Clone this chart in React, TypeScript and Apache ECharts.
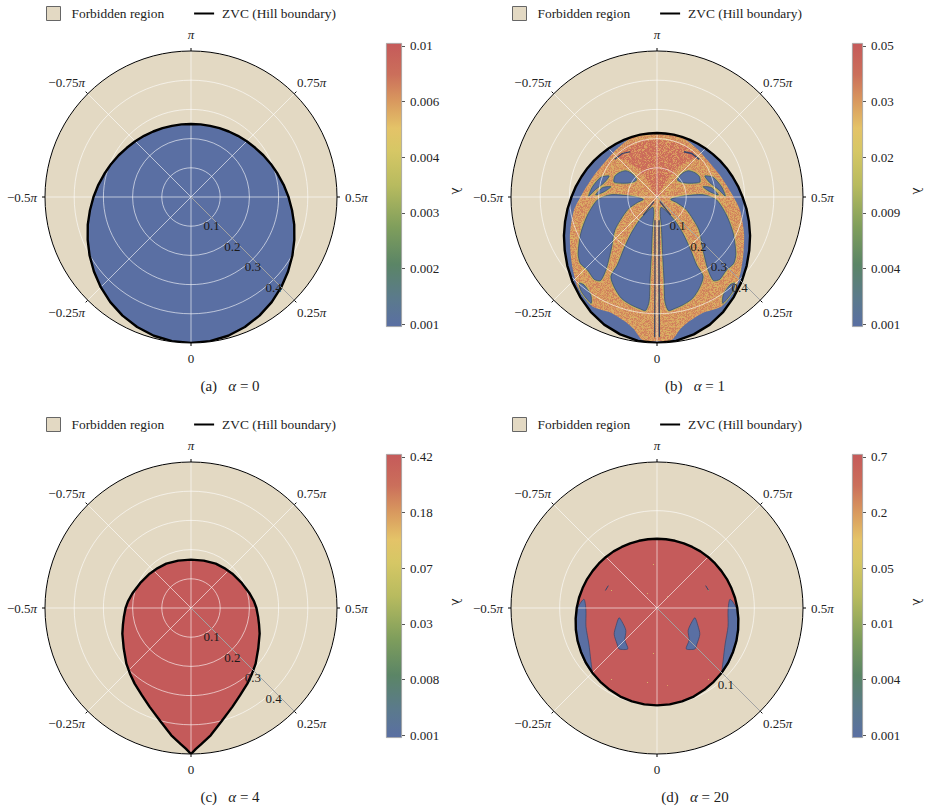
import React, { useEffect, useRef } from "react";
import * as echarts from "echarts";

const FONT = "'Liberation Serif', serif";
const BLUE = "#5a6fa3";
const RED = "#c55b5b";
const TAN = "#e3d9c3";

// ZVC boundary radii, right half (mirrored about the vertical)
const stepAngles = [0, 7.5, 15, 22.5, 30, 37.5, 45, 52.5, 60, 67.5, 75, 82.5, 90, 97.5, 105, 112.5, 120, 127.5, 135, 142.5, 150, 157.5, 165, 172.5, 180];
const zvcA = [0.5, 0.498, 0.492, 0.482, 0.469, 0.454, 0.437, 0.419, 0.401, 0.383, 0.366, 0.349, 0.334, 0.32, 0.307, 0.296, 0.286, 0.277, 0.27, 0.264, 0.259, 0.255, 0.252, 0.251, 0.25];
const zvcB = [0.5, 0.497, 0.487, 0.473, 0.454, 0.432, 0.41, 0.387, 0.365, 0.345, 0.326, 0.309, 0.293, 0.28, 0.268, 0.258, 0.249, 0.241, 0.235, 0.23, 0.226, 0.223, 0.221, 0.2195, 0.219];
const tipAngles = [0, 2, 4.2, 8.8, 15.1, 22.7, 29.3, 36.7, 42.9, 49.3, 58.9, 69.5, 76.2, 82.3, 90, 96, 103.9, 116, 129.7, 140.2, 150.9, 164.9, 180];
const zvcC = [0.5, 0.483, 0.468, 0.441, 0.402, 0.367, 0.343, 0.323, 0.307, 0.292, 0.269, 0.251, 0.24, 0.232, 0.224, 0.217, 0.207, 0.194, 0.184, 0.178, 0.174, 0.168, 0.1655];
const zvcD = [0.1, 0.0999, 0.0993, 0.0985, 0.0971, 0.0956, 0.094, 0.0922, 0.0902, 0.0883, 0.0863, 0.0843, 0.0825, 0.0808, 0.0791, 0.0777, 0.0763, 0.0752, 0.0742, 0.0733, 0.0724, 0.0719, 0.0715, 0.0713, 0.0712];

// Colour bar tick labels, bottom to top
const barA = ["0.001", "0.002", "0.003", "0.004", "0.006", "0.01"];
const barB = ["0.001", "0.004", "0.009", "0.02", "0.03", "0.05"];
const barC = ["0.001", "0.008", "0.03", "0.07", "0.18", "0.42"];
const barD = ["0.001", "0.004", "0.01", "0.05", "0.2", "0.7"];
const barTickValues = [0.05, 1.05, 2.05, 3.05, 4.05, 5.05];
const barTop = 5.1;

// Radial tick labels
const radialLong = [0.1, 0.2, 0.3, 0.4];
const radialShort = [0.1];

// Regions of panel (b): x, y in the polar plane, thousandths of the radial unit, x right, y down (right half)
const chaosOuter = [[0, -216], [84, -205], [136, -166], [170, -129], [215, -75], [255, -13], [284, 44], [298, 124], [296, 193], [288, 250], [272, 307], [250, 341], [221, 375], [198, 384], [158, 396], [113, 424], [79, 453], [58, 483], [42, 494], [0, 494]];
const chaosCore = [[0, -195], [56, -189], [113, -166], [136, -138], [101, -121], [67, -98], [39, -64], [16, -24], [0, 0]];
const lobeBig = [[14, 35], [33, 50], [62, 82], [90, 127], [115, 181], [136, 233], [158, 272], [145, 312], [122, 347], [90, 369], [56, 384], [39, 389], [27, 358], [24, 284], [19, 193], [15, 101], [11, 56]];
const lobeMid = [[47, 8], [90, -3], [158, -8], [204, 10], [238, 62], [261, 124], [270, 193], [263, 227], [238, 250], [215, 282], [193, 286], [173, 244], [155, 170], [144, 113], [101, 44], [67, 19]];
const lobeEye = [[70, -58], [84, -79], [107, -90], [130, -83], [145, -70], [147, -51], [119, -47], [90, -49]];
const sliverOne = [[164, -72], [193, -67], [221, -35], [234, -3], [210, -26], [181, -49]];
const sliverTwo = [[158, -35], [187, -32], [210, -7], [181, -18]];
const lobeLow = [[250, 301], [267, 295], [259, 324], [238, 352], [225, 364], [227, 335]];
const streakTop = [[92, -155], [119, -149], [145, -129]];
const streakStem = [[7, 80], [7, 250], [8, 480]];
const streakFan = [[10, 16], [47, 62]];

// Regions of panel (d), same convention
const islandD = [[39, 10], [42, 18], [44, 27], [41, 37], [39, 42], [30, 42], [33, 33], [32, 23], [36, 14]];
const crescentD = [[75, -9], [81, -1], [83, 14], [82, 33], [75, 54], [67, 66], [68, 54], [70, 37], [73, 19], [73, 2]];
const streakD = [[50, -23], [53, -18]];

const flip = (pts: number[][]) => pts.map(([x, y]) => [-x, y]);
const both = (pts: number[][]) => [...pts, ...flip(pts).reverse().filter(([x]) => x !== 0)];
const toPolar = ([x, y]: number[]) => [Math.hypot(x, y) / 1000, (Math.atan2(x, y) * 180) / Math.PI];

const ring = (angles: number[], radii: number[]) => {
  const right = angles.map((a, i) => [radii[i], a]);
  const left = angles
    .slice(1, -1)
    .reverse()
    .map((a, i) => [radii[angles.length - 2 - i], -a]);
  return [...right, ...left, [radii[0], 0]];
};

const stops = [
  [0, "#5a6fa3"],
  [0.1, "#5b7a8c"],
  [0.22, "#5b8566"],
  [0.35, "#7f9e5c"],
  [0.5, "#b8bb5f"],
  [0.62, "#d6c765"],
  [0.7, "#e4c368"],
  [0.8, "#d8975e"],
  [0.89, "#cb6f5b"],
  [1, "#c55a5a"],
];

function tile(w: number, h: number, base: string | null, colors: string[], specks = 0) {
  const c = document.createElement("canvas");
  c.width = w;
  c.height = h;
  const g = c.getContext("2d")!;
  let s = 12345;
  const next = () => {
    s = (s * 1103515245 + 12345) & 0x7fffffff;
    return (s >> 8) / 0x7fffff;
  };
  if (base) {
    g.fillStyle = base;
    g.fillRect(0, 0, w, h);
  }
  if (specks) {
    for (let i = 0; i < specks; i++) {
      g.fillStyle = colors[Math.floor(next() * colors.length) % colors.length];
      g.fillRect(Math.floor(next() * w), Math.floor(next() * h), 1, 1);
    }
  } else {
    for (let y = 0; y < h; y++)
      for (let x = 0; x < w; x++) {
        g.fillStyle = colors[Math.floor(next() * colors.length) % colors.length];
        g.fillRect(x, y, 1, 1);
      }
  }
  return c;
}

const panels = [
  { id: "a", alpha: "0", cx: 191, cy: 197, rMax: 0.5, zvc: ring(stepAngles, zvcA), fill: BLUE, radial: radialLong, bar: barA, gx: 386, gy: 43, capX: 230, capY: 378 },
  { id: "b", alpha: "1", cx: 657, cy: 197, rMax: 0.5, zvc: ring(stepAngles, zvcB), fill: BLUE, radial: radialLong, bar: barB, gx: 852, gy: 43, capX: 695, capY: 378 },
  { id: "c", alpha: "4", cx: 191, cy: 608, rMax: 0.5, zvc: ring(tipAngles, zvcC), fill: "#c45a5a", radial: radialLong, bar: barC, gx: 386, gy: 454, capX: 230, capY: 789 },
  { id: "d", alpha: "20", cx: 657, cy: 608, rMax: 0.15, zvc: ring(stepAngles, zvcD), fill: RED, radial: radialShort, bar: barD, gx: 852, gy: 454, capX: 695, capY: 789 },
];

const angleLabel = (v: number) => {
  const a = Math.abs(v);
  if (a === 180) return "{top|π}";
  if (v === 0) return "{bot|0}";
  const num = `${v < 0 ? "−" : ""}${a / 180}`;
  if (v === 90) return `{rn|${num}}{p|π}`;
  if (v === -90) return `{n|${num}}{lp|π}`;
  if (a === 45) return `{dn|${num}}{dp|π}`;
  return `{un|${num}}{up|π}`;
};

const tick = { fontFamily: FONT, fontSize: 13, color: "#222" };
const tickP = { ...tick, fontStyle: "italic" };

export default function App() {
  const ref = useRef<HTMLDivElement>(null);
  useEffect(() => {
    const chart = echarts.init(ref.current!, null, { renderer: "svg" });
    const chaos = { image: tile(48, 48, null, ["#d9985f", "#d58a5e", "#dda866", "#d9a060", "#cf7d5c", "#d8b064", "#d08a5c"]), repeat: "repeat" };
    const core = { image: tile(48, 48, null, ["#cd705a", "#cb685a", "#d68a5e", "#d07a5c", "#dba062", "#cb6c5a"]), repeat: "repeat" };
    const redSpeck = { image: tile(97, 89, RED, ["#dd9c62", "#d8b66a"], 4), repeat: "repeat" };
    const dark = "#33456b";
    const olive = "#bdb960";

    const lobes = (p: number[][]) =>
      [p, flip(p)].flatMap((q) => [
        { pts: q, fill: BLUE, stroke: olive, lw: 2.2, smooth: 0.25 },
        { pts: q, fill: BLUE, stroke: dark, lw: 0.7, smooth: 0.25 },
      ]);

    const regionsB = [
      { pts: both(chaosOuter), fill: chaos, smooth: 0.25 },
      { pts: both(chaosCore), fill: core, smooth: 0.25 },
      ...[lobeBig, lobeMid, lobeEye, sliverOne, sliverTwo, lobeLow].flatMap(lobes),
      ...[streakTop, streakFan, streakStem].flatMap((p) => [
        { pts: p, line: true, stroke: dark, lw: 1.4 },
        { pts: flip(p), line: true, stroke: dark, lw: 1.2 },
      ]),
    ];
    const regionsD = [
      ...[islandD, crescentD].flatMap((p) => [
        { pts: p, fill: BLUE, stroke: dark, lw: 0.7, smooth: 0.25 },
        { pts: flip(p), fill: BLUE, stroke: dark, lw: 0.7, smooth: 0.25 },
      ]),
      { pts: streakD, line: true, stroke: dark, lw: 1 },
      { pts: flip(streakD), line: true, stroke: dark, lw: 1 },
    ];

    const regionSeries = (i: number, regions: any[]) => ({
      type: "custom",
      coordinateSystem: "polar",
      polarIndex: i,
      z: 3,
      silent: true,
      clip: false,
      data: regions.map((r) => toPolar(r.pts[0])),
      renderItem: (p: any, api: any) => {
        const r = regions[p.dataIndex];
        const points = r.pts.map((q: number[]) => api.coord(toPolar(q)));
        if (r.line)
          return { type: "polyline", shape: { points }, style: { fill: null, stroke: r.stroke, lineWidth: r.lw } };
        return {
          type: "polygon",
          shape: { points, smooth: r.smooth },
          style: { fill: r.fill, stroke: r.stroke || null, lineWidth: r.lw || 0 },
        };
      },
    });

    const series: any[] = [];
    panels.forEach((pn, i) => {
      series.push({
        name: "Forbidden region",
        type: "custom",
        coordinateSystem: "polar",
        polarIndex: i,
        z: 1,
        silent: true,
        clip: false,
        data: [[pn.rMax, 0]],
        renderItem: (_: any, api: any) => {
          const c = api.coord([0, 0]);
          const e = api.coord([pn.rMax, 0]);
          return { type: "circle", shape: { cx: c[0], cy: c[1], r: Math.hypot(e[0] - c[0], e[1] - c[1]) }, style: { fill: TAN } };
        },
      });
      series.push({
        type: "custom",
        coordinateSystem: "polar",
        polarIndex: i,
        z: 2,
        silent: true,
        clip: false,
        data: [pn.zvc[0]],
        renderItem: (_: any, api: any) => ({
          type: "polygon",
          shape: { points: pn.zvc.map((q) => api.coord(q)) },
          style: { fill: pn.id === "d" ? redSpeck : pn.fill, stroke: null },
        }),
      });
      if (pn.id === "b") series.push(regionSeries(i, regionsB));
      if (pn.id === "d") series.push(regionSeries(i, regionsD));
      series.push({
        name: "ZVC (Hill boundary)",
        type: "line",
        coordinateSystem: "polar",
        polarIndex: i,
        z: 11,
        silent: true,
        clip: false,
        showSymbol: false,
        symbol: "none",
        itemStyle: { color: "#000" },
        lineStyle: { color: "#000", width: 2.4, join: "round" },
        data: pn.zvc,
      });
      series.push({
        type: "line",
        coordinateSystem: "polar",
        polarIndex: i,
        z: 12,
        silent: true,
        clip: false,
        showSymbol: false,
        symbol: "none",
        lineStyle: { color: "#a3a3a3", width: 1 },
        data: [[0, 45], [pn.rMax, 45]],
      });
      series.push({
        type: "scatter",
        coordinateSystem: "polar",
        polarIndex: i,
        z: 13,
        silent: true,
        clip: false,
        symbolSize: 0,
        itemStyle: { opacity: 1 },
        data: pn.radial.map((v) => [v, 45]),
        label: {
          show: true,
          position: "inside",
          offset: [0, 8],
          fontFamily: FONT,
          fontSize: 13,
          color: "#1a1a1a",
          opacity: 1,
          textBorderWidth: 0,
          formatter: (p: any) => p.value[0].toFixed(1),
        },
      });
      series.push({
        type: "bar",
        xAxisIndex: i,
        yAxisIndex: i,
        silent: true,
        barWidth: "100%",
        data: [barTop],
        itemStyle: {
          borderColor: "#a0a0a0",
          borderWidth: 0.8,
          color: new echarts.graphic.LinearGradient(
            0, 1, 0, 0,
            stops.map(([offset, color]) => ({ offset: offset as number, color: color as string }))
          ),
        },
      });
    });

    chart.setOption({
      animation: false,
      tooltip: { show: false },
      title: panels.map((pn) => ({
        text: `{t|(${pn.id})   }{i|α}{t| = ${pn.alpha}}`,
        left: pn.capX,
        top: pn.capY,
        padding: 0,
        textAlign: "center",
        textStyle: {
          fontWeight: "normal",
          rich: {
            t: { fontFamily: FONT, fontSize: 15, color: "#222", fontWeight: "normal" },
            i: { fontFamily: FONT, fontSize: 15, color: "#222", fontStyle: "italic", fontWeight: "normal" },
          },
        },
      })),
      legend: panels.map((pn) => ({
        left: pn.cx - 145,
        top: pn.cy - 191,
        padding: 0,
        orient: "horizontal",
        selectedMode: false,
        itemWidth: 20,
        itemHeight: 14,
        itemGap: 30,
        textStyle: { fontFamily: FONT, fontSize: 13.4, color: "#222", padding: [0, 0, 0, 3] },
        data: [
          {
            name: "Forbidden region",
            icon: "path://M0 0H14V14H0Z",
            itemStyle: { color: TAN, borderColor: "#666", borderWidth: 1 },
          },
          { name: "ZVC (Hill boundary)", icon: "path://M0 0H20V2H0Z", itemStyle: { color: "#000" } },
        ],
      })),
      polar: panels.map((pn) => ({ center: [pn.cx, pn.cy], radius: 146 })),
      angleAxis: panels.map((_, i) => ({
        polarIndex: i,
        type: "value",
        min: -180,
        max: 180,
        interval: 45,
        startAngle: 90,
        clockwise: false,
        z: 10,
        axisLine: { show: true, lineStyle: { color: "#000", width: 1 } },
        axisTick: { show: true, length: 3, lineStyle: { color: "#000", width: 1 } },
        axisLabel: {
          margin: 4,
          formatter: angleLabel,
          rich: {
            n: tick,
            p: tickP,
            top: { ...tickP, padding: [0, 0, 6, 0] },
            bot: { ...tick, padding: [5, 0, 0, 0] },
            rn: { ...tick, padding: [0, 0, 0, 4] },
            lp: { ...tickP, padding: [0, 4, 0, 0] },
            dn: { ...tick, padding: [3, 0, 0, 0] },
            dp: { ...tickP, padding: [3, 0, 0, 0] },
            un: { ...tick, padding: [0, 0, 2, 0] },
            up: { ...tickP, padding: [0, 0, 2, 0] },
          },
        },
        splitLine: { show: true, lineStyle: { color: "rgba(255,255,255,0.6)", width: 1 } },
      })),
      radiusAxis: panels.map((pn, i) => ({
        polarIndex: i,
        type: "value",
        min: 0,
        max: pn.rMax,
        interval: 0.1,
        z: 9,
        axisLine: { show: false },
        axisTick: { show: false },
        axisLabel: { show: false },
        splitLine: { show: true, lineStyle: { color: "rgba(255,255,255,0.6)", width: 1 } },
      })),
      grid: panels.map((pn) => ({ left: pn.gx, top: pn.gy, width: 16, height: 284 })),
      xAxis: panels.map((_, i) => ({ gridIndex: i, type: "category", data: ["λ"], show: false })),
      yAxis: panels.map((pn, i) => ({
        gridIndex: i,
        type: "value",
        position: "right",
        min: 0,
        max: barTop,
        name: "λ",
        nameLocation: "middle",
        nameRotate: -90,
        nameGap: 47,
        nameTextStyle: { fontFamily: FONT, fontSize: 15, color: "#222", padding: [0, 0, 0, 12] },
        axisLine: { show: false },
        axisTick: { show: true, length: 3, customValues: barTickValues, lineStyle: { color: "#555" } },
        axisLabel: {
          margin: 8,
          customValues: barTickValues,
          fontFamily: FONT,
          fontSize: 13,
          color: "#222",
          formatter: (v: number) => pn.bar[Math.round(v - 0.05)],
        },
        splitLine: { show: false },
      })),
      series,
    });
    return () => chart.dispose();
  }, []);
  return <div ref={ref} style={{ position: "absolute", left: 0, top: 0, width: 926, height: 811 }} />;
}
